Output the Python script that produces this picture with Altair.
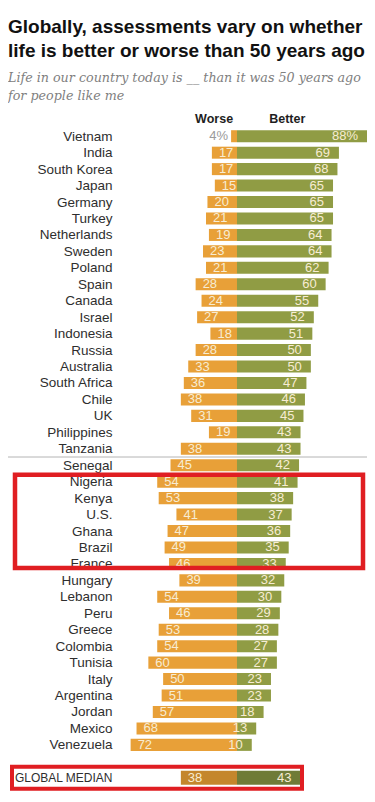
import json
import altair as alt
import pandas as pd

# ---------------- data ----------------
countries = ["Vietnam", "India", "South Korea", "Japan", "Germany", "Turkey",
             "Netherlands", "Sweden", "Poland", "Spain", "Canada", "Israel",
             "Indonesia", "Russia", "Australia", "South Africa", "Chile", "UK",
             "Philippines", "Tanzania", "Senegal", "Nigeria", "Kenya", "U.S.",
             "Ghana", "Brazil", "France", "Hungary", "Lebanon", "Peru", "Greece",
             "Colombia", "Tunisia", "Italy", "Argentina", "Jordan", "Mexico",
             "Venezuela"]
worse = [4, 17, 17, 15, 20, 21, 19, 23, 21, 28, 24, 27, 18, 28, 33, 36, 38, 31,
         19, 38, 45, 54, 53, 41, 47, 49, 46, 39, 54, 46, 53, 54, 60, 50, 51, 57,
         68, 72]
better = [88, 69, 68, 65, 65, 65, 64, 64, 62, 60, 55, 52, 51, 50, 50, 47, 46, 45,
          43, 43, 42, 41, 38, 37, 36, 35, 33, 32, 30, 29, 28, 27, 27, 23, 23, 18,
          13, 10]
median_label = "GLOBAL MEDIAN"
median_worse = 38
median_better = 43
headers = ["Worse", "Better"]
highlighted = ["Nigeria", "France"]          # first / last row of the red box
divider_after = "Tanzania"

title_lines = ["Globally, assessments vary on whether",
               "life is better or worse than 50 years ago"]
subtitle_lines = ["Life in our country today is __ than it was 50 years ago",
                  "for people like me"]

# ---------------- tables ----------------
names = countries + ["", median_label]
n_rows = len(names)
median_row = n_rows - 1

rows = []
for i, (c, w, b) in enumerate(zip(countries, worse, better)):
    rows.append(dict(name=c, row=i, worse=w, better=b, median=False))
rows.append(dict(name=median_label, row=median_row, worse=median_worse,
                 better=median_better, median=True))
df = pd.DataFrame(rows)
df["wneg"] = -df["worse"]
df["wtxt"] = [f"{v}%" if r == 0 else str(v) for v, r in zip(df["worse"], df["row"])]
df["btxt"] = [f"{v}%" if r == 0 else str(v) for v, r in zip(df["better"], df["row"])]

bars = []
for r in rows:
    half = 0.43 if r["median"] else 0.365
    suffix = " median" if r["median"] else ""
    bars.append(dict(row=r["row"], y0=r["row"] - half, y1=r["row"] + half,
                     lo=-r["worse"], hi=0, key="Worse" + suffix))
    bars.append(dict(row=r["row"], y0=r["row"] - half, y1=r["row"] + half,
                     lo=0, hi=r["better"], key="Better" + suffix))
bars_df = pd.DataFrame(bars)
one = pd.DataFrame({"k": [0]})

# ---------------- style ----------------
SANS = "Liberation Sans"
W, H = 251, 658
PAD = {"left": 108, "top": 120, "right": 0, "bottom": 6}
ORANGE, GREEN = "#E8A038", "#909C44"
ORANGE_D, GREEN_D = "#C4862C", "#6F7B37"
LABEL = "#F7ECD3"
RED = "#E01E22"

xscale = alt.Scale(domain=[-81.9, 88.0], nice=False, zero=False)
yscale = alt.Scale(domain=[-0.5, n_rows - 0.5], reverse=True, nice=False, zero=False)
label_expr = "[" + ",".join(json.dumps(n) for n in names) + "][datum.value]"
yaxis = alt.Axis(values=[i for i in range(n_rows) if names[i] != ""],
                 labelExpr=label_expr, domain=False, ticks=False, grid=False,
                 labelPadding=4,
                 labelFontSize={"condition": {"test": f"datum.value == {median_row}",
                                              "value": 12},
                                "value": 13.5},
                 labelFont=SANS,
                 labelColor="#2e2e2e", labelOverlap=False, labelBound=False,
                 labelFlush=False, title=None)


def Y(field=None, datum=None):
    if datum is not None:
        return alt.Y(datum=datum, type="quantitative", scale=yscale, axis=yaxis)
    return alt.Y(field, type="quantitative", scale=yscale, axis=yaxis)


def X(field=None, datum=None):
    if datum is not None:
        return alt.X(datum=datum, type="quantitative", scale=xscale, axis=None)
    return alt.X(field, type="quantitative", scale=xscale, axis=None)


bar_layer = alt.Chart(bars_df).mark_rect().encode(
    x=X("lo"), x2="hi", y=Y("y0"), y2="y1",
    color=alt.Color("key:N", legend=None,
                    scale=alt.Scale(domain=["Worse", "Better", "Worse median", "Better median"],
                                    range=[ORANGE, GREEN, ORANGE_D, GREEN_D])),
)

worse_in = alt.Chart(df).transform_filter("datum.worse >= 10").mark_text(
    align="left", baseline="middle", dx=7, fontSize=13, font=SANS, color=LABEL
).encode(x=X("wneg"), y=Y("row"), text="wtxt:N")

worse_out = alt.Chart(df).transform_filter("datum.worse < 10").mark_text(
    align="right", baseline="middle", dx=-3, fontSize=13, font=SANS, color="#9a9a9a"
).encode(x=X("wneg"), y=Y("row"), text="wtxt:N")

better_txt = alt.Chart(df).mark_text(
    align="right", baseline="middle", dx=-9, fontSize=13, font=SANS, color=LABEL
).encode(x=X("better"), y=Y("row"), text="btxt:N")

head_worse = alt.Chart(one).mark_text(
    align="center", baseline="alphabetic", fontSize=12.5, font=SANS,
    fontWeight="bold", color="#1e1e1e"
).encode(x=X(datum=-15.5), y=alt.value(-5), text=alt.value(headers[0]))

head_better = alt.Chart(one).mark_text(
    align="center", baseline="alphabetic", fontSize=12.5, font=SANS,
    fontWeight="bold", color="#1e1e1e"
).encode(x=X(datum=34), y=alt.value(-5), text=alt.value(headers[1]))

divider = alt.Chart(one).mark_rule(color="#b4b4b4", strokeWidth=1).encode(
    y=Y(datum=countries.index(divider_after) + 0.5),
    x=alt.value(-108), x2=alt.value(W))

box1 = alt.Chart(one).mark_rect(fillOpacity=0, stroke=RED, strokeWidth=4.5).encode(
    x=alt.value(-101), x2=alt.value(247),
    y=Y(datum=countries.index(highlighted[0]) - 0.42),
    y2=alt.Y2(datum=countries.index(highlighted[1]) + 0.25))

box2 = alt.Chart(one).mark_rect(fillOpacity=0, stroke=RED, strokeWidth=4).encode(
    x=alt.value(-104), x2=alt.value(186),
    y=Y(datum=median_row - 0.67),
    y2=alt.Y2(datum=median_row + 0.67))

chart = alt.layer(
    bar_layer, worse_in, worse_out, better_txt, head_worse, head_better,
    divider, box1, box2
).properties(
    width=W, height=H,
    autosize=alt.AutoSizeParams(type="none"),
    padding=PAD,
    background="white",
    title=alt.TitleParams(
        text=title_lines, subtitle=subtitle_lines, anchor="start", frame="group",
        dx=-108,
        font=SANS, fontSize=19, fontWeight="bold", color="#111111", lineHeight=24.5,
        subtitleFont="DejaVu Serif", subtitleFontStyle="italic",
        subtitleFontSize=12.7, subtitleColor="#808080", subtitleLineHeight=18,
        subtitlePadding=11, offset=10),
).configure_view(strokeWidth=0, fill="white").configure_axis(
    domain=False, grid=False, ticks=False)

chart.save("out.html", embed_options={"renderer": "svg", "actions": False})
